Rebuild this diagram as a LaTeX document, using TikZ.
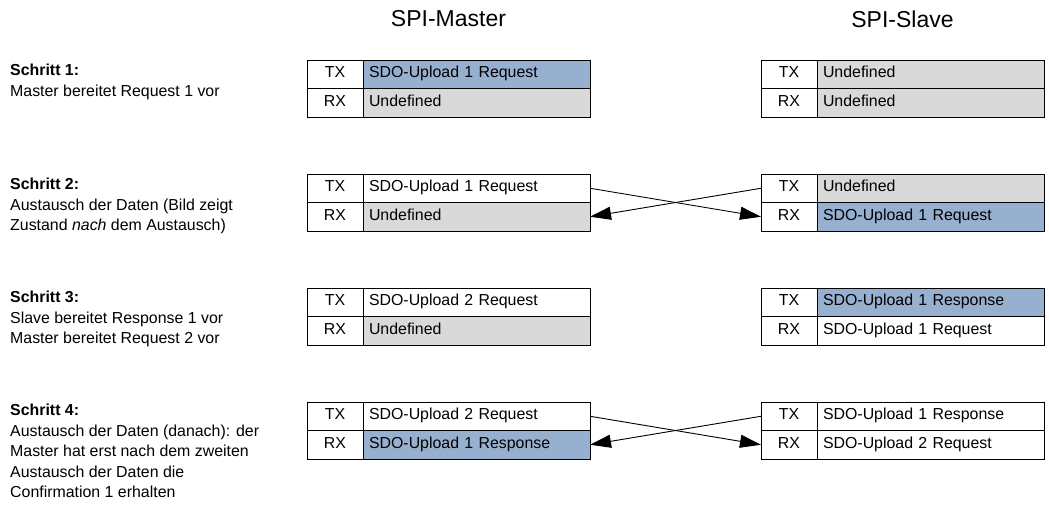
\documentclass[tikz,border=0pt]{standalone}
\usepackage{fontspec}
\setmainfont{Liberation Sans}
\usetikzlibrary{arrows.meta,positioning}

\definecolor{reqblue}{RGB}{152,176,208}
\definecolor{undefgray}{RGB}{217,217,217}

\begin{document}
\begin{tikzpicture}[
  x=1pt, y=-1pt,
  every node/.style={font=\fontsize{15.9}{20.5}\selectfont},
  lbl/.style={draw, outer sep=0pt, minimum width=56pt, minimum height=28.5pt,
              inner sep=0pt, text height=.716em, text depth=0pt, line width=.9pt},
  val/.style={draw, outer sep=0pt, minimum height=28.5pt, inner xsep=6pt, inner ysep=0pt,
              text width=215pt, align=left, text height=.716em, text depth=0pt, line width=.9pt},
  newval/.style={val, fill=reqblue},
  undef/.style={val, fill=undefgray},
  hdr/.style={font=\fontsize{23}{26}\selectfont, inner sep=0pt},
  stepnote/.style={anchor=north west, align=left, inner sep=0pt},
  xfer/.style={-{Triangle[length=21pt,width=13pt]}, line width=.9pt}
]
\useasboundingbox (0,0) rectangle (1049,506);

% ===== Column headers =====
\node[hdr] (hmaster) at (448.5,19) {SPI-Master};
\node[hdr] (hslave)  at (902.5,19) {SPI-Slave};

% ===== Step descriptions =====
\node[stepnote] (n1) at (10,64)  {\textbf{Schritt 1:}\\Master bereitet Request 1 vor};
\node[stepnote] (n2) at (10,178) {\textbf{Schritt 2:}\\Austausch der Daten (Bild zeigt\\Zustand \textit{nach} dem Austausch)};
\node[stepnote] (n3) at (10,291) {\textbf{Schritt 3:}\\Slave bereitet Response 1 vor\\Master bereitet Request 2 vor};
\node[stepnote] (n4) at (10,404) {\textbf{Schritt 4:}\\Austausch der Daten (danach): der\\Master hat erst nach dem zweiten\\Austausch der Daten die\\Confirmation 1 erhalten};

% ----- Step 1 -----
\node[lbl] (m1tx) at (335,74.25) {TX};
\node[newval, right=0pt of m1tx] (m1txv) {SDO-Upload 1 Request};
\node[lbl, below=0pt of m1tx] (m1rx) {RX};
\node[undef, right=0pt of m1rx] (m1rxv) {Undefined};

\node[lbl] (s1tx) at (789,74.25) {TX};
\node[undef, right=0pt of s1tx] (s1txv) {Undefined};
\node[lbl, below=0pt of s1tx] (s1rx) {RX};
\node[undef, right=0pt of s1rx] (s1rxv) {Undefined};

% ----- Step 2 -----
\node[lbl] (m2tx) at (335,188.25) {TX};
\node[val, right=0pt of m2tx] (m2txv) {SDO-Upload 1 Request};
\node[lbl, below=0pt of m2tx] (m2rx) {RX};
\node[undef, right=0pt of m2rx] (m2rxv) {Undefined};

\node[lbl] (s2tx) at (789,188.25) {TX};
\node[undef, right=0pt of s2tx] (s2txv) {Undefined};
\node[lbl, below=0pt of s2tx] (s2rx) {RX};
\node[newval, right=0pt of s2rx] (s2rxv) {SDO-Upload 1 Request};

% ----- Step 3 -----
\node[lbl] (m3tx) at (335,302.25) {TX};
\node[val, right=0pt of m3tx] (m3txv) {SDO-Upload 2 Request};
\node[lbl, below=0pt of m3tx] (m3rx) {RX};
\node[undef, right=0pt of m3rx] (m3rxv) {Undefined};

\node[lbl] (s3tx) at (789,302.25) {TX};
\node[newval, right=0pt of s3tx] (s3txv) {SDO-Upload 1 Response};
\node[lbl, below=0pt of s3tx] (s3rx) {RX};
\node[val, right=0pt of s3rx] (s3rxv) {SDO-Upload 1 Request};

% ----- Step 4 -----
\node[lbl] (m4tx) at (335,416.25) {TX};
\node[val, right=0pt of m4tx] (m4txv) {SDO-Upload 2 Request};
\node[lbl, below=0pt of m4tx] (m4rx) {RX};
\node[newval, right=0pt of m4rx] (m4rxv) {SDO-Upload 1 Response};

\node[lbl] (s4tx) at (789,416.25) {TX};
\node[val, right=0pt of s4tx] (s4txv) {SDO-Upload 1 Response};
\node[lbl, below=0pt of s4tx] (s4rx) {RX};
\node[val, right=0pt of s4rx] (s4rxv) {SDO-Upload 2 Request};

% ===== Exchanges =====
\draw[xfer] (m2txv.east) -- (s2rx.west);
\draw[xfer] (s2tx.west) -- (m2rxv.east);
\draw[xfer] (m4txv.east) -- (s4rx.west);
\draw[xfer] (s4tx.west) -- (m4rxv.east);
\end{tikzpicture}
\end{document}
